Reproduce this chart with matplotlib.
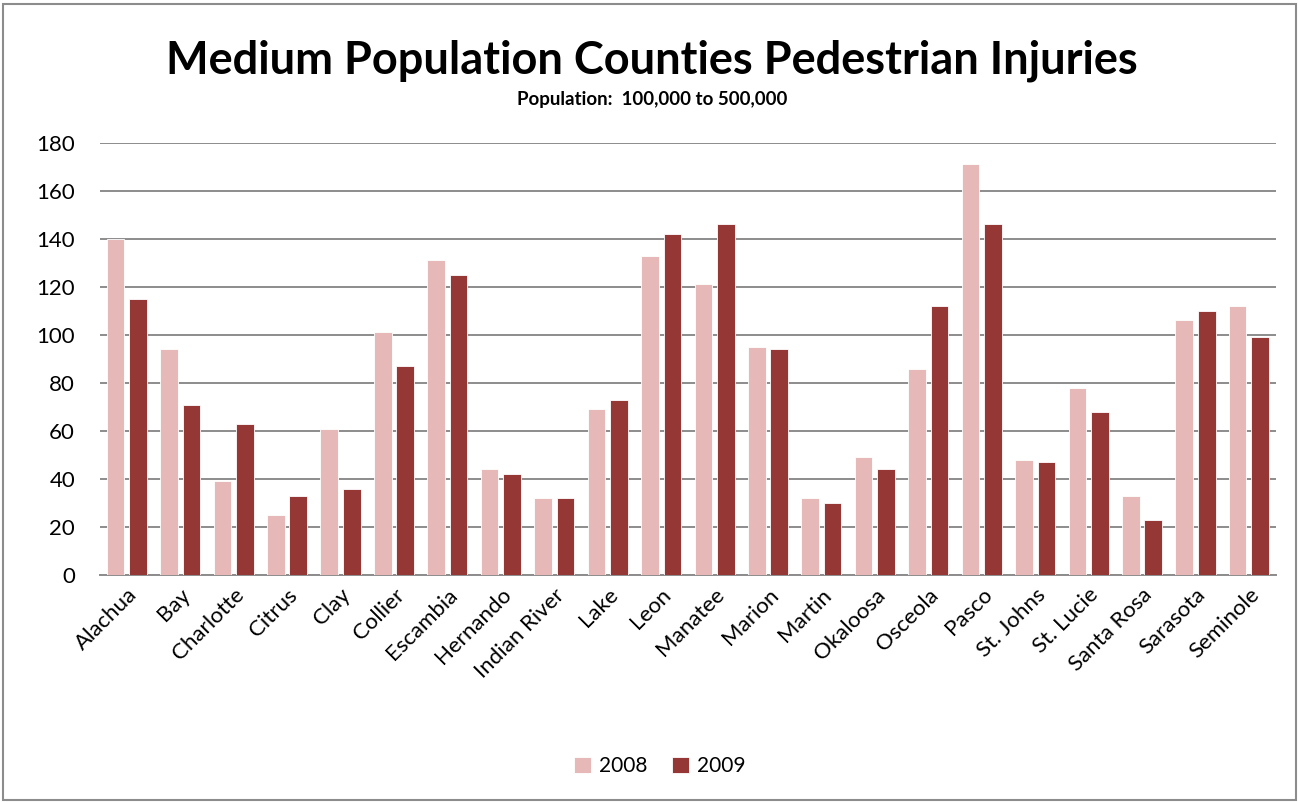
import numpy as np
import matplotlib.pyplot as plt
from matplotlib.patches import Rectangle

# ── Data ──────────────────────────────────────────────────────────────────────
counties = ["Alachua", "Bay", "Charlotte", "Citrus", "Clay", "Collier", "Escambia",
            "Hernando", "Indian River", "Lake", "Leon", "Manatee", "Marion", "Martin",
            "Okaloosa", "Osceola", "Pasco", "St. Johns", "St. Lucie", "Santa Rosa",
            "Sarasota", "Seminole"]
inj_2008 = [140, 94, 39, 25, 61, 101, 131, 44, 32, 69, 133, 121, 95, 32, 49, 86, 171, 48, 78, 33, 106, 112]
inj_2009 = [115, 71, 63, 33, 36, 87, 125, 42, 32, 73, 142, 146, 94, 30, 44, 112, 146, 47, 68, 23, 110, 99]
yticks = [0, 20, 40, 60, 80, 100, 120, 140, 160, 180]

C08 = "#E6B9B8"
C09 = "#953735"
FONT = "Lato"

# ── Figure ────────────────────────────────────────────────────────────────────
fig = plt.figure(figsize=(12.99, 8.02), dpi=100)
ax = fig.add_axes([0.077, 0.283, 0.905, 0.539])

x = np.arange(len(counties))
w = 0.33
ax.bar(x - 0.21, inj_2008, w, color=C08, edgecolor="white", linewidth=0.6, label="2008", zorder=3)
ax.bar(x + 0.21, inj_2009, w, color=C09, edgecolor="white", linewidth=0.6, label="2009", zorder=3)

ax.set_xlim(-0.5, len(counties) - 0.5)
ax.set_ylim(0, 180)
ax.set_yticks(yticks)
ax.set_yticklabels([str(t) for t in yticks], fontsize=16, family=FONT)
ax.set_xticks(x)
ax.set_xticklabels(counties, rotation=45, ha="right", rotation_mode="anchor",
                   fontsize=16, family=FONT)
ax.tick_params(axis="y", length=0, pad=18)
ax.tick_params(axis="x", length=0, pad=7)

ax.yaxis.grid(True, color="#8C8C8C", linewidth=1.4, zorder=0)
ax.set_axisbelow(True)
for s in ["left", "right", "top"]:
    ax.spines[s].set_visible(False)
ax.spines["bottom"].set_color("#8C8C8C")
ax.spines["bottom"].set_linewidth(1.4)

fig.text(0.502, 0.924, "Medium Population Counties Pedestrian Injuries",
         ha="center", va="center", fontsize=32.5, fontweight="bold", family=FONT)
fig.text(0.502, 0.876, "Population:  100,000 to 500,000",
         ha="center", va="center", fontsize=13.5, fontweight="bold", family=FONT)

fig.legend(loc="center", bbox_to_anchor=(0.508, 0.045), ncol=2, frameon=False,
           prop={"family": FONT, "size": 15}, handlelength=0.8, handleheight=0.8,
           columnspacing=1.2, handletextpad=0.4)

# chart border
fig.patches.append(Rectangle((0.002, 0.002), 0.996, 0.993, transform=fig.transFigure,
                             fill=False, edgecolor="#8C8C8C", linewidth=1.5))

plt.savefig("out.png", dpi=100)
